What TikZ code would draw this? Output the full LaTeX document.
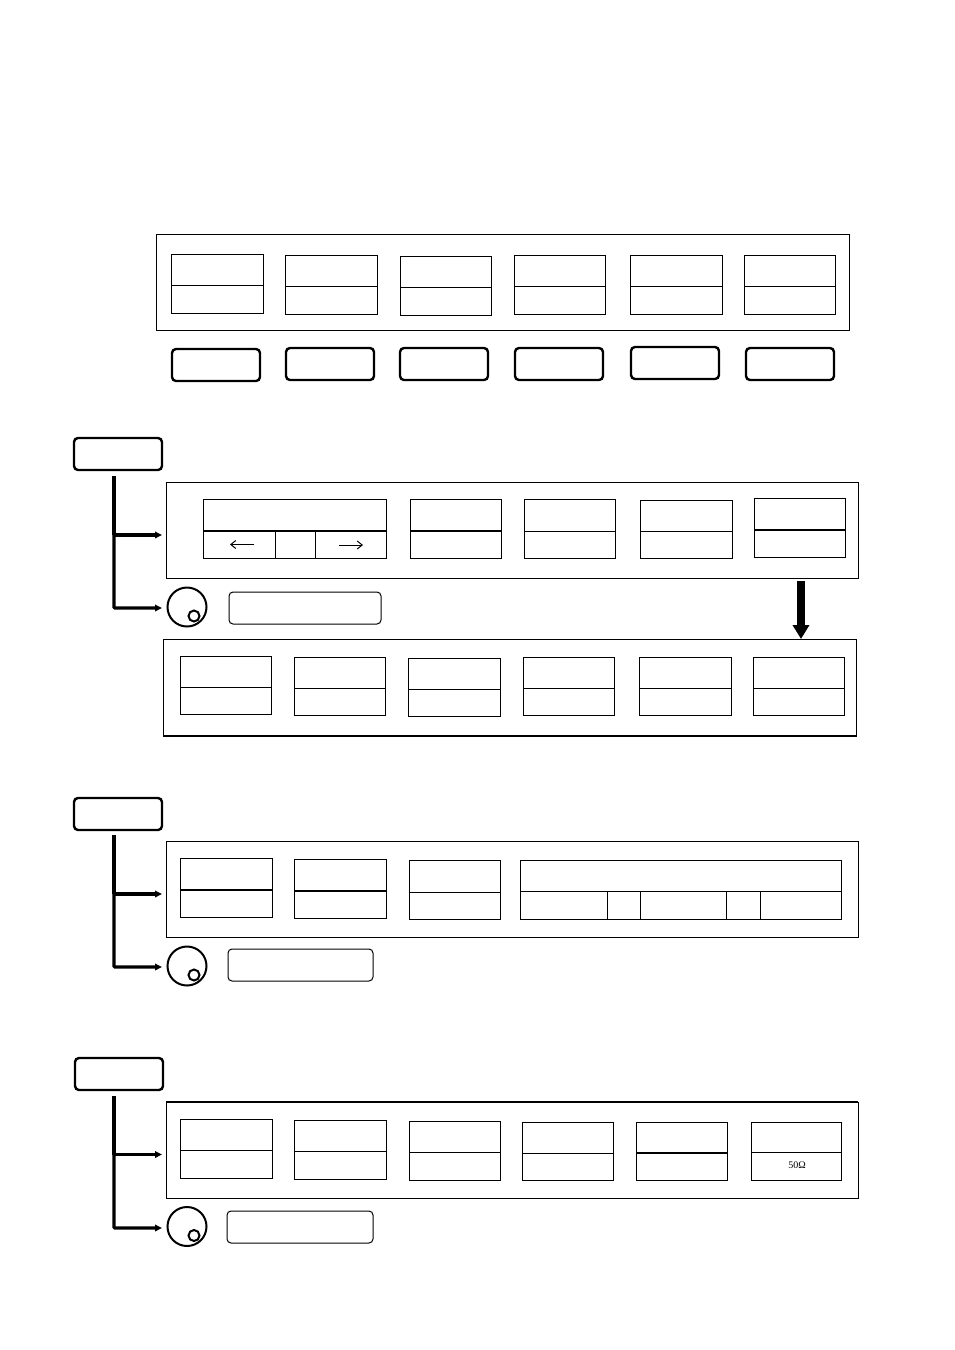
\documentclass[tikz,border=0pt]{standalone}
\usepackage{fontspec}
\setmainfont{Liberation Serif}
\usetikzlibrary{arrows.meta}
\tikzset{
  panel/.style={draw,line width=1pt,rectangle,anchor=north west,inner sep=0pt,outer sep=0pt},
  softkey/.style={panel},
  hardkey/.style={draw,line width=2.4pt,rectangle,rounded corners=4pt,anchor=north west,inner sep=0pt,outer sep=0pt,minimum width=88pt,minimum height=32pt},
  readout/.style={draw,line width=1pt,rectangle,rounded corners=4pt,anchor=north west,inner sep=0pt,outer sep=0pt,minimum height=32pt},
  branch/.style={-{Triangle[length=7pt,width=6.5pt]}},
  knob/.style={draw,line width=2pt,circle,inner sep=0pt,outer sep=0pt,minimum size=39pt},
  knobdot/.style={draw,line width=2pt,circle,inner sep=0pt,outer sep=0pt,minimum size=11pt}
}
\newcommand{\softrow}[1]{%
  \foreach \nm/\xa/\ya/\wa/\ha/\ym/\lw in {#1} {
    \node[softkey,minimum width=\wa pt,minimum height=\ha pt] (\nm) at (\xa,\ya) {};
    \draw[line width=\lw pt] (\nm.north west |- 0,\ym) -- (\nm.north east |- 0,\ym);
  }}
\begin{document}
\begin{tikzpicture}[x=1pt,y=-1pt]
    \useasboundingbox (0,0) rectangle (954,1350);
    % top row
    \node[panel,minimum width=693pt,minimum height=95.5pt] (toppanel) at (156,234.5) {};
    \softrow{ta/171/254/92/59/285/1, tb/285/255/92/59/286/1, tc/400/256/91/59/287/1, td/514/255/91/59/286/1, te/630/255/92/59/286/1, tf/744/255/91/59/286/1}
    \foreach \nm/\xa/\ya in {ha/172/349, hb/286/348, hc/400/348, hd/515/348, he/631/347, hf/746/348}
        \node[hardkey] (\nm) at (\xa,\ya) {};
    % menu keys, each with its two branches and knob
    \foreach \nm/\xa/\ya/\yt/\yb/\ye/\yk/\bw/\rd/\rw/\ry in {ma/74/438/476/535/608/607/3.6/229/152/592, mb/74/798/835/894/967/966/3.6/228/145/949, mc/75/1058/1096/1154.5/1228/1226.5/2.8/227/146/1211} {
        \node[hardkey] (\nm) at (\xa,\ya) {};
        \coordinate (\nm top) at (114,\yt);
        \coordinate (\nm fork) at (114,\yb);
        \coordinate (\nm end) at (114,\ye);
        \coordinate (\nm panel) at (162,\yb);
        \coordinate (\nm tip) at (162,\ye);
        \node[knob] (\nm knob) at (187,\yk) {};
        \node[knobdot] (\nm dot) at (194,\yk+9) {};
        \node[readout,minimum width=\rw pt] (\nm read) at (\rd,\ry) {};
        \draw[line width=3.6pt] (\nm top) -- (\nm fork);
        \draw[branch,line width=\bw pt] (\nm fork) -- (\nm panel);
        \draw[branch,line width=3.4pt,rounded corners=1pt] (\nm fork) -- (\nm end) -- (\nm tip);
    }
    % second group
    \node[panel,minimum width=692pt,minimum height=96pt] (apanel) at (166,482) {};
    \softrow{aa/203/499/183/59/530.5/2, ab/410/499/91/59/530.5/2, ac/524/499/91/59/531/1, ad/640/500/92/58/531/1, ae/754/498/91/59/530/2}
    \draw (aa.south west -| 275,0) -- (275,531);
    \draw (aa.south west -| 315,0) -- (315,531);
    \coordinate (leftfrom) at (254,544.5);
    \coordinate (leftto) at (230,544.5);
    \coordinate (rightfrom) at (339,545);
    \coordinate (rightto) at (363,545);
    \draw[line width=1pt,-{Straight Barb[length=5pt,width=8pt]}] (leftfrom) -- (leftto);
    \draw[line width=1pt,-{Straight Barb[length=5pt,width=8pt]}] (rightfrom) -- (rightto);
    \node[panel,minimum width=693pt,minimum height=97pt] (bpanel) at (163.5,639) {};
    \draw[line width=2pt] (bpanel.south west) -- (bpanel.south east);
    \softrow{ba/180/656/91/58/687/1, bb/294/657/91/58/688/1, bc/408/658/92/58/689/1, bd/523/657/91/58/688/1, be/639/657/92/58/688/1, bf/753/657/91/58/688/1}
    \coordinate (downfrom) at (801,581);
    \draw[line width=8pt,-{Triangle[length=14pt,width=16pt]}] (downfrom) -- (bpanel.north west -| 801,0);
    % third group
    \node[panel,minimum width=692pt,minimum height=96pt] (cpanel) at (166,841) {};
    \softrow{ca/180/858.5/92/59/890/1.8, cb/294/859.5/92/59/891/1.8, cc/409/860.5/91/59/892/1, cd/520/860.5/321/59/891.5/1}
    \foreach \xa in {607,640,726,760}
        \draw (cd.south west -| \xa,0) -- (\xa,892);
    % fourth group
    \node[panel,minimum width=692pt,minimum height=96pt] (dpanel) at (166,1102) {};
    \draw[line width=2pt] (dpanel.north west) -- (dpanel.north east);
    \softrow{da/180/1119.5/92/59/1150.5/1, db/294/1120.5/92/59/1151.5/1, dc/409/1121/91/59/1152/1, dd/522/1122/91/58/1153/1, de/636/1122/91/58/1153/2, df/751/1122/90/58/1152.5/1}
    \node[font=\fontsize{10}{11}\selectfont,inner sep=0pt] (ohm) at (797,1165) {50Ω};
\end{tikzpicture}
\end{document}
